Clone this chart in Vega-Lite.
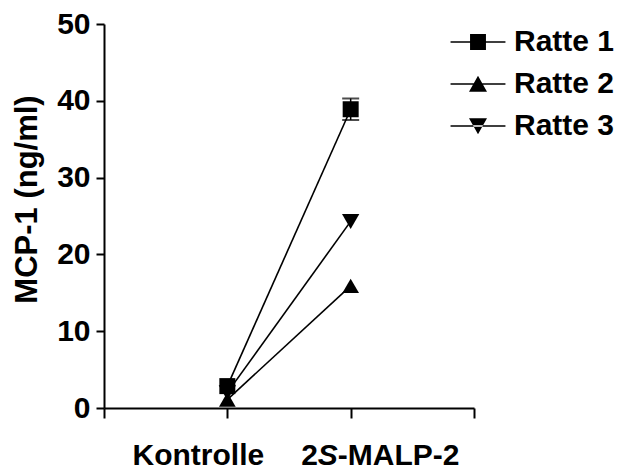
{
  "$schema": "https://vega.github.io/schema/vega-lite/v6.json",
  "width": 370,
  "height": 384,
  "autosize": "none",
  "padding": {"left": 104, "top": 24, "right": 150, "bottom": 63},
  "background": "white",
  "config": {
    "view": {"stroke": null},
    "font": "Liberation Sans",
    "axis": {"grid": false, "domainColor": "black", "tickColor": "black", "labelColor": "black", "titleColor": "black", "domainWidth": 2, "tickWidth": 2}
  },
  "data": {
    "values": [
      {"rat": "Ratte 3", "cond": "Kontrolle", "mcp": 2.0, "sem": 0},
      {"rat": "Ratte 3", "cond": "2S-MALP-2", "mcp": 24.3, "sem": 0},
      {"rat": "Ratte 2", "cond": "Kontrolle", "mcp": 1.1, "sem": 0},
      {"rat": "Ratte 2", "cond": "2S-MALP-2", "mcp": 15.9, "sem": 0},
      {"rat": "Ratte 1", "cond": "Kontrolle", "mcp": 2.85, "sem": 0},
      {"rat": "Ratte 1", "cond": "2S-MALP-2", "mcp": 38.9, "sem": 1.4}
    ]
  },
  "encoding": {
    "x": {
      "field": "cond",
      "type": "nominal",
      "scale": {"type": "point", "domain": ["_l", "Kontrolle", "2S-MALP-2", "_r"], "padding": 0},
      "axis": {"labels": false, "title": null, "tickSize": 10}
    },
    "y": {
      "field": "mcp",
      "type": "quantitative",
      "scale": {"domain": [0, 50], "nice": false},
      "axis": {
        "values": [0, 10, 20, 30, 40, 50],
        "title": "MCP-1 (ng/ml)",
        "tickSize": 8,
        "labelPadding": 6,
        "labelFontSize": 30,
        "labelFontWeight": "bold",
        "titleFontSize": 31,
        "titleFontWeight": "bold",
        "titlePadding": 13,
        "titleY": 175
      }
    }
  },
  "resolve": {"scale": {"shape": "independent"}},
  "layer": [
    {
      "mark": {"type": "line", "color": "black", "strokeWidth": 1.6},
      "encoding": {"detail": {"field": "rat"}}
    },
    {
      "transform": [{"filter": "datum.sem > 0"}],
      "mark": {"type": "errorbar", "color": "black", "thickness": 1.5, "ticks": {"size": 17, "thickness": 2, "color": "black"}},
      "encoding": {"yError": {"field": "sem"}, "detail": {"field": "rat"}}
    },
    {
      "mark": {"type": "point", "filled": true, "color": "black", "opacity": 1},
      "encoding": {
        "shape": {"field": "rat", "type": "nominal", "scale": {"domain": ["Ratte 1", "Ratte 2", "Ratte 3"], "range": ["square", "triangle-up", "triangle-down"]}, "legend": null},
        "size": {"field": "rat", "type": "ordinal", "scale": {"domain": ["Ratte 1", "Ratte 2", "Ratte 3"], "range": [256, 300, 300]}, "legend": null}
      }
    },
    {
      "mark": {"type": "point", "filled": true, "color": "black", "opacity": 0},
      "encoding": {
        "shape": {
          "field": "rat",
          "type": "nominal",
          "scale": {
            "domain": ["Ratte 1", "Ratte 2", "Ratte 3"],
            "range": [
              "M-1.83,-0.05H1.83V0.05H-1.83ZM-0.53,-0.53H0.53V0.53H-0.53Z",
              "M-1.83,-0.05H1.83V0.05H-1.83ZM0,-0.55L0.6,0.52L-0.6,0.52Z",
              "M-1.83,-0.05H1.83V0.05H-1.83ZM0,0.55L0.6,-0.52L-0.6,-0.52Z"
            ]
          },
          "legend": {
            "title": null,
            "orient": "none",
            "legendX": 359,
            "legendY": 3,
            "padding": 0,
            "symbolSize": 900,
            "symbolOpacity": 1,
            "symbolFillColor": "black",
            "symbolStrokeWidth": 0,
            "labelFontSize": 30,
            "labelFontWeight": "bold",
            "labelColor": "black",
            "labelOffset": 21,
            "rowPadding": 12,
            "labelLimit": 300
          }
        }
      }
    },
    {
      "data": {"values": [{"cond": "Kontrolle", "label": "Kontrolle"}]},
      "mark": {"type": "text", "invalid": null, "fontSize": 30, "fontWeight": "bold", "color": "black", "align": "center", "baseline": "alphabetic", "dx": -29, "dy": 56.5},
      "encoding": {"y": {"datum": 0}, "text": {"field": "label"}}
    },
    {
      "data": {"values": [{"cond": "2S-MALP-2", "label": "2"}]},
      "mark": {"type": "text", "invalid": null, "fontSize": 30, "fontWeight": "bold", "color": "black", "align": "left", "baseline": "alphabetic", "dx": -49.5, "dy": 56.5},
      "encoding": {"y": {"datum": 0}, "text": {"field": "label"}}
    },
    {
      "data": {"values": [{"cond": "2S-MALP-2", "label": "S"}]},
      "mark": {"type": "text", "invalid": null, "fontSize": 30, "fontWeight": "bold", "fontStyle": "italic", "color": "black", "align": "left", "baseline": "alphabetic", "dx": -32.8, "dy": 56.5},
      "encoding": {"y": {"datum": 0}, "text": {"field": "label"}}
    },
    {
      "data": {"values": [{"cond": "2S-MALP-2", "label": "-MALP-2"}]},
      "mark": {"type": "text", "invalid": null, "fontSize": 30, "fontWeight": "bold", "color": "black", "align": "left", "baseline": "alphabetic", "dx": -12.8, "dy": 56.5},
      "encoding": {"y": {"datum": 0}, "text": {"field": "label"}}
    }
  ]
}
